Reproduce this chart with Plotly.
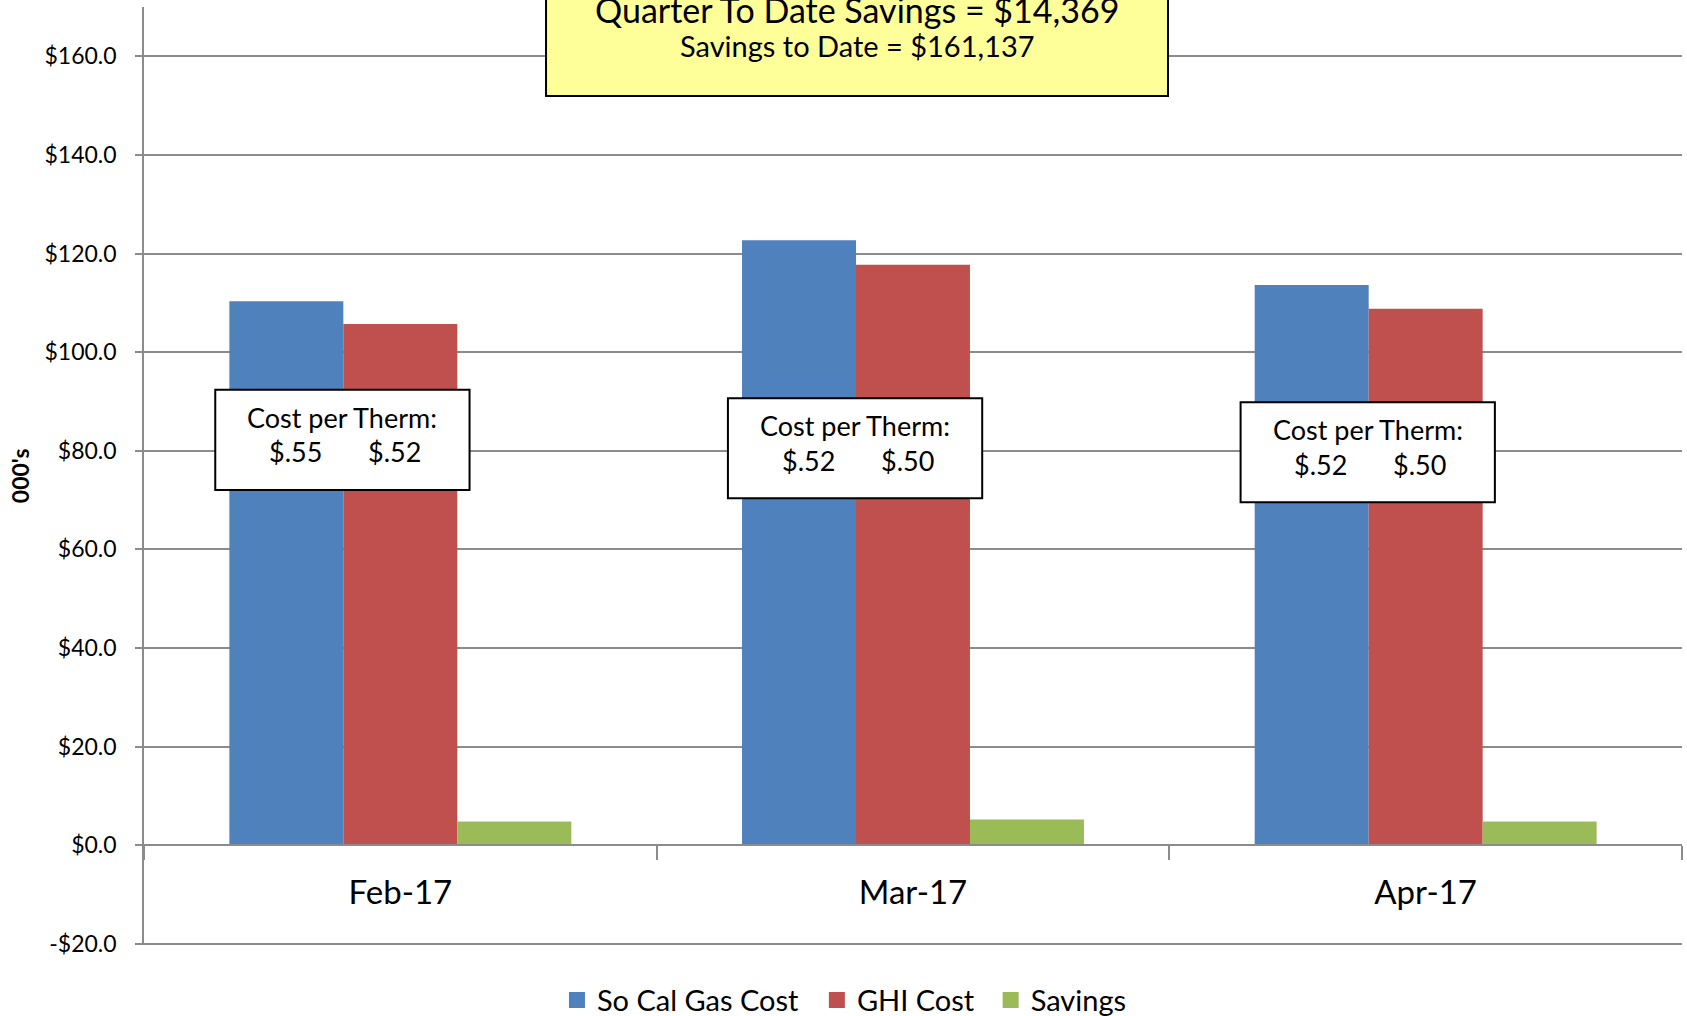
import plotly.graph_objects as go

# ---- data ----
months = ["Feb-17", "Mar-17", "Apr-17"]
so_cal_gas_cost = [110.3, 122.7, 113.6]
ghi_cost = [105.7, 117.7, 108.8]
savings = [4.8, 5.2, 4.8]
so_cal_per_therm = ["$.55", "$.52", "$.52"]
ghi_per_therm = ["$.52", "$.50", "$.50"]
y_tick_vals = [-20, 0, 20, 40, 60, 80, 100, 120, 140, 160]
y_tick_text = ["-$20.0", "$0.0", "$20.0", "$40.0", "$60.0", "$80.0",
               "$100.0", "$120.0", "$140.0", "$160.0"]
series_names = ["So Cal Gas Cost", "GHI Cost", "Savings"]
qtd_text = "Quarter To Date Savings = $14,369"
std_text = "Savings to Date = $161,137"

# ---- styling ----
BLUE, RED, GREEN = "#4F81BD", "#C0504D", "#9BBB59"
GRID = "#8C8C8C"
FONT = "Lato, 'Open Sans', sans-serif"
Y_MIN, Y_MAX = -20.25, 170
box_centers_y = [82.2, 80.5, 79.7]   # vertical centre of "Cost per Therm" boxes
legend_x = [0.2685, 0.4375, 0.5505]   # paper x of each legend entry

fig = go.Figure()
legend_ids = ["legend", "legend2", "legend3"]
for k, (name, vals, col) in enumerate(zip(series_names,
                                          [so_cal_gas_cost, ghi_cost, savings],
                                          [BLUE, RED, GREEN])):
    fig.add_trace(go.Bar(x=months, y=vals, name=name, marker_color=col,
                         marker_line_width=0, showlegend=False, hoverinfo="skip"))
    fig.add_trace(go.Scatter(x=[None], y=[None], mode="markers", name=name,
                             legend=legend_ids[k],
                             marker=dict(symbol="square", size=17, color=col)))

shapes = []
annotations = []
TXT = dict(size=27, color="black", family=FONT)
for i, yc in enumerate(box_centers_y):
    shapes.append(dict(type="rect", xref="x", yref="y",
                       x0=i - 0.361, x1=i + 0.135, y0=yc - 10.15, y1=yc + 10.15,
                       fillcolor="white", line=dict(color="black", width=2), layer="above"))
    annotations.append(dict(x=i - 0.113, y=yc + 4.56, xref="x", yref="y", text="Cost per Therm:",
                            showarrow=False, font=TXT))
    annotations.append(dict(x=i - 0.2045, y=yc - 2.43, xref="x", yref="y", text=so_cal_per_therm[i],
                            showarrow=False, font=TXT))
    annotations.append(dict(x=i - 0.0115, y=yc - 2.43, xref="x", yref="y", text=ghi_per_therm[i],
                            showarrow=False, font=TXT))

# yellow summary box (top, partially cropped)
shapes.append(dict(type="rect", xref="paper", yref="paper", x0=0.2614, x1=0.6658,
                   y0=0.905, y1=1.2, fillcolor="#FFFF99",
                   line=dict(color="black", width=2), layer="above"))
annotations.append(dict(x=0.4636, y=0.9975, xref="paper", yref="paper", text=qtd_text,
                        showarrow=False, yanchor="middle",
                        font=dict(size=34, color="black", family=FONT)))
annotations.append(dict(x=0.4636, y=0.959, xref="paper", yref="paper", text=std_text,
                        showarrow=False, yanchor="middle",
                        font=dict(size=29, color="black", family=FONT)))
# y axis title
annotations.append(dict(x=-0.0805, y=0.5, xref="paper", yref="paper", text="<b>000's</b>",
                        textangle=-90, showarrow=False, xanchor="center", yanchor="middle",
                        font=dict(size=23, color="black", family=FONT)))

leg_common = dict(orientation="h", xanchor="left", yref="container", y=0.0157,
                  yanchor="middle", font=dict(size=29, color="black", family=FONT),
                  bgcolor="rgba(0,0,0,0)", borderwidth=0)

fig.update_layout(
    width=1687, height=1016,
    margin=dict(l=144, r=5, t=7, b=71, autoexpand=False),
    plot_bgcolor="white", paper_bgcolor="white",
    barmode="group", bargap=0.333, bargroupgap=0,
    font=dict(family=FONT, color="black"),
    shapes=shapes, annotations=annotations,
    legend=dict(x=legend_x[0], **leg_common),
    legend2=dict(x=legend_x[1], **leg_common),
    legend3=dict(x=legend_x[2], **leg_common),
    xaxis=dict(type="category", anchor="free", position=(0 - Y_MIN) / (Y_MAX - Y_MIN),
               showline=True, linecolor=GRID, linewidth=2, ticks="outside",
               tickson="boundaries", ticklen=14, tickcolor=GRID, tickwidth=1.5,
               showgrid=False, tickfont=dict(size=33, color="black"),
               ticklabelstandoff=18),
    yaxis=dict(range=[Y_MIN, Y_MAX], tickvals=y_tick_vals, ticktext=y_tick_text,
               showgrid=True, gridcolor=GRID, gridwidth=2,
               zeroline=True, zerolinecolor=GRID, zerolinewidth=2,
               showline=True, linecolor=GRID, linewidth=1.5,
               ticks="outside", ticklen=7, tickcolor=GRID, tickwidth=1.5,
               tickfont=dict(size=23, color="black"), ticklabelstandoff=14),
)

fig.write_html("out.html", config={"displayModeBar": False},
               post_script="document.body.style.margin='0px';")
